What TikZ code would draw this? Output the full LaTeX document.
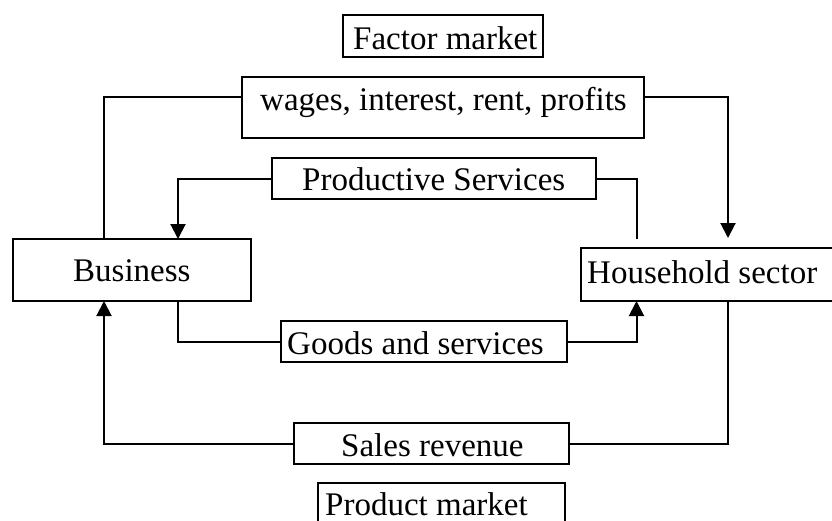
\documentclass[tikz,border=0pt]{standalone}
\usepackage{fontspec}
\setmainfont{Liberation Serif}
\usetikzlibrary{arrows.meta,calc}
\begin{document}
\begin{tikzpicture}[x=1pt,y=-1pt,
  box/.style={draw, line width=2pt, rectangle, inner sep=0pt, outer sep=0pt, anchor=north west},
  lbl/.style={anchor=base west, inner sep=0pt, font=\fontsize{33}{40}\selectfont},
  conn/.style={line width=2pt},
  arr/.style={conn, -{Triangle[length=15pt,width=15pt]}}]
\useasboundingbox (0,0) rectangle (832,520);
% boxes
\node[box, minimum width=200pt, minimum height=42pt] (fm) at (343,15) {};
\node[box, minimum width=402pt, minimum height=61pt] (wg) at (242,77) {};
\node[box, minimum width=324pt, minimum height=41pt] (ps) at (272,158) {};
\node[box, minimum width=238pt, minimum height=62pt] (bu) at (13,239) {};
\node[box, minimum width=255pt, minimum height=53pt] (hh) at (581,248) {};
\node[box, minimum width=286pt, minimum height=41pt] (gs) at (281,321) {};
\node[box, minimum width=275pt, minimum height=41pt] (sr) at (294,423) {};
\node[box, minimum width=247pt, minimum height=40pt] (pm) at (318,483) {};
% texts
\node[lbl] (tfm) at (353,49) {Factor market};
\node[lbl] (twg) at (260,110) {wages, interest, rent, profits};
\node[lbl] (tps) at (302,190) {Productive Services};
\node[lbl] (tbu) at (73,281) {Business};
\node[lbl] (thh) at (587,283) {Household sector};
\node[lbl] (tgs) at (287,354) {Goods and services};
\node[lbl] (tsr) at (341,456) {Sales revenue};
\node[lbl] (tpm) at (325,515) {Product market};
% helper coordinates
\coordinate (c1) at (104,97);
\coordinate (c2) at (728,97);
\coordinate (c3) at (178,179);
\coordinate (c4) at (636.5,341);
% connectors
\draw[conn] (bu.north -| c1) -- (c1) -- (c1 -| wg.west);
\draw[arr] (c2 -| wg.east) -- (c2) -- ($(hh.north -| c2)+(0,-10)$);
\draw[arr] (ps.west) -| (bu.north -| c3);
\draw[conn] (ps.east) -| ($(hh.north -| c4)+(0,-9)$);
\draw[conn] (bu.south -| c3) |- (gs.west);
\draw[arr] (gs.east) -| (hh.south -| c4);
\draw[arr] (sr.west) -| (bu.south -| c1);
\draw[conn] (hh.south -| c2) |- (sr.east);
\end{tikzpicture}
\end{document}
